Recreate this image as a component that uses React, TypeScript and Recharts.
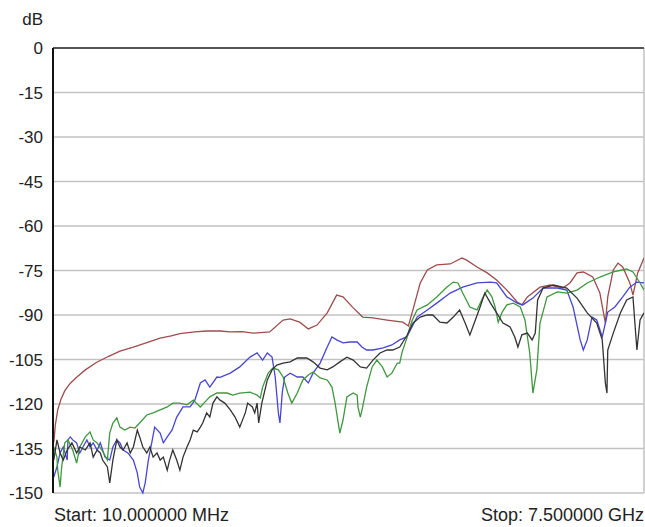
import React from "react";
import { LineChart, Line, XAxis, YAxis, CartesianGrid, ReferenceLine } from "recharts";

// frequency in GHz, level in dB
const brownTrace: [number, number][] = [
  [0.01, -133], [0.03, -127], [0.06, -122], [0.1, -118.5], [0.15, -115.5], [0.22, -113],
  [0.3, -111], [0.41, -108.5], [0.55, -106], [0.7, -104], [0.85, -102.2], [1.02, -100.8],
  [1.2, -99.2], [1.36, -97.8], [1.5, -97], [1.61, -96.3], [1.8, -95.7], [1.95, -95.4], [2.12, -95.4],
  [2.25, -95.7], [2.4, -95.6], [2.54, -96.1], [2.75, -95.7], [2.92, -91.7], [3.01, -91.3], [3.13, -92.4],
  [3.24, -94.7], [3.35, -93.4], [3.48, -89.3], [3.6, -83.3], [3.68, -83.9], [3.81, -87.6],
  [3.93, -90.7], [4.06, -91.0], [4.24, -91.7], [4.44, -92.4], [4.51, -93.7], [4.57, -88.0],
  [4.66, -79.2], [4.75, -74.8], [4.87, -73.1], [5.04, -72.8], [5.19, -70.8], [5.25, -71.5],
  [5.38, -73.8], [5.51, -75.8], [5.63, -78.2], [5.76, -81.6], [5.89, -85.6], [5.95, -86.6],
  [6.02, -83.9], [6.18, -80.6], [6.31, -79.9], [6.47, -80.9], [6.56, -79.2], [6.65, -75.8],
  [6.73, -75.5], [6.85, -77.2], [6.94, -82.6], [7.01, -92.7], [7.04, -83.9], [7.11, -74.8],
  [7.17, -72.5], [7.23, -73.8], [7.32, -79.2], [7.36, -83.3], [7.42, -75.8], [7.5, -70.8],
];

const blueTrace: [number, number][] = [
  [0.01, -144.6], [0.05, -141.2], [0.09, -136.5], [0.13, -134.5], [0.18, -138.9], [0.19, -132.1],
  [0.22, -131.1], [0.25, -132.1], [0.3, -133.1], [0.34, -136.5], [0.38, -134.5], [0.43, -132.1],
  [0.47, -134.5], [0.51, -133.1], [0.56, -135.5], [0.6, -133.1], [0.66, -137.9], [0.72, -138.9],
  [0.76, -134.5], [0.81, -132.1], [0.85, -133.1], [0.89, -135.5], [0.95, -136.5], [1.02, -138.9],
  [1.07, -143.3], [1.1, -148.0], [1.14, -150.0], [1.17, -146.6], [1.21, -138.9], [1.26, -132.1],
  [1.29, -127.8], [1.36, -129.8], [1.4, -133.1], [1.45, -131.1], [1.51, -128.8], [1.57, -124.4],
  [1.65, -121.0], [1.74, -121.0], [1.8, -118.7], [1.87, -112.9], [1.93, -111.9], [1.99, -114.3],
  [2.08, -110.9], [2.12, -111.0], [2.25, -109.6], [2.37, -107.5], [2.5, -104.2], [2.59, -102.8],
  [2.66, -105.2], [2.72, -102.8], [2.78, -104.2], [2.82, -110.9], [2.86, -123.0], [2.88, -126.4],
  [2.91, -116.0], [2.94, -110.9], [3.01, -109.6], [3.1, -110.9], [3.17, -110.9], [3.24, -112.9],
  [3.3, -109.6], [3.39, -106.2], [3.48, -100.8], [3.54, -97.4], [3.6, -98.4], [3.68, -99.4],
  [3.77, -99.1], [3.86, -99.1], [3.92, -100.8], [3.98, -101.8], [4.06, -101.8], [4.19, -101.1],
  [4.3, -100.1], [4.4, -98.4], [4.49, -97.4], [4.62, -90.7], [4.75, -88.3], [4.87, -86.0],
  [5.04, -82.6], [5.2, -80.6], [5.38, -79.2], [5.55, -78.9], [5.63, -79.2], [5.76, -83.9],
  [5.89, -86.0], [5.96, -86.6], [6.09, -84.3], [6.22, -80.9], [6.4, -80.9], [6.52, -81.6],
  [6.6, -87.3], [6.69, -98.4], [6.73, -101.8], [6.78, -98.4], [6.84, -90.7], [6.9, -91.7],
  [6.97, -97.4], [7.01, -92.7], [7.04, -89.0], [7.13, -87.3], [7.23, -83.9], [7.32, -80.6],
  [7.41, -78.9], [7.5, -79.2],
];

const greenTrace: [number, number][] = [
  [0.01, -134.5], [0.05, -137.9], [0.06, -142.3], [0.09, -148.0], [0.11, -141.2], [0.15, -133.1],
  [0.19, -132.1], [0.25, -135.5], [0.3, -139.9], [0.34, -134.5], [0.41, -131.1], [0.47, -129.4],
  [0.51, -132.1], [0.56, -133.1], [0.62, -135.5], [0.69, -138.9], [0.72, -129.8], [0.76, -126.4],
  [0.81, -124.7], [0.85, -127.8], [0.91, -128.8], [0.98, -127.8], [1.04, -128.1], [1.1, -126.4],
  [1.19, -123.7], [1.27, -123.0], [1.36, -122.0], [1.45, -121.0], [1.52, -119.7], [1.61, -119.7],
  [1.7, -120.3], [1.78, -118.7], [1.87, -121.0], [1.93, -119.3], [1.99, -117.6], [2.08, -116.3],
  [2.21, -116.3], [2.28, -117.0], [2.37, -116.3], [2.5, -116.0], [2.59, -117.0], [2.63, -118.0],
  [2.66, -114.3], [2.73, -109.6], [2.79, -107.9], [2.86, -108.5], [2.92, -110.9], [2.98, -116.3],
  [3.03, -119.7], [3.1, -116.3], [3.17, -111.9], [3.24, -110.2], [3.3, -109.2], [3.39, -111.2],
  [3.48, -111.9], [3.54, -114.3], [3.58, -119.7], [3.64, -129.8], [3.68, -125.4], [3.73, -117.6],
  [3.81, -116.3], [3.86, -117.0], [3.87, -121.0], [3.9, -124.4], [3.93, -121.0], [3.98, -114.3],
  [4.05, -107.5], [4.11, -105.2], [4.18, -107.5], [4.24, -110.9], [4.3, -109.6], [4.37, -106.2],
  [4.4, -106.2], [4.43, -102.5], [4.47, -99.4], [4.49, -97.8], [4.53, -94.0], [4.56, -91.7],
  [4.62, -88.3], [4.75, -86.6], [4.87, -83.9], [5.0, -80.6], [5.08, -78.9], [5.14, -79.2],
  [5.2, -82.6], [5.29, -87.3], [5.38, -88.3], [5.46, -83.9], [5.51, -81.6], [5.57, -83.9],
  [5.61, -87.3], [5.65, -92.4], [5.7, -89.0], [5.76, -86.6], [5.84, -86.0], [5.93, -87.3],
  [5.99, -91.7], [6.05, -102.8], [6.09, -116.3], [6.14, -108.5], [6.18, -92.7], [6.27, -83.9],
  [6.4, -82.2], [6.52, -82.6], [6.65, -81.6], [6.78, -79.2], [6.94, -77.2], [7.11, -75.5],
  [7.28, -74.5], [7.36, -75.5], [7.45, -79.2], [7.5, -81.6],
];

const blackTrace: [number, number][] = [
  [0.01, -138.9], [0.05, -132.1], [0.09, -136.5], [0.13, -138.9], [0.18, -135.5], [0.24, -133.1],
  [0.3, -136.5], [0.34, -134.5], [0.41, -135.5], [0.47, -133.1], [0.51, -137.9], [0.56, -135.5],
  [0.6, -136.5], [0.63, -138.9], [0.69, -141.2], [0.72, -146.6], [0.76, -138.9], [0.81, -132.1],
  [0.85, -134.5], [0.89, -135.5], [0.94, -133.1], [0.98, -136.5], [1.02, -134.5], [1.07, -128.8],
  [1.1, -131.1], [1.14, -134.5], [1.19, -136.5], [1.23, -134.5], [1.27, -137.9], [1.32, -136.5],
  [1.36, -138.9], [1.4, -137.9], [1.45, -142.3], [1.48, -138.9], [1.52, -135.5], [1.57, -138.9],
  [1.61, -142.3], [1.65, -137.9], [1.7, -134.5], [1.74, -132.1], [1.78, -128.8], [1.83, -129.4],
  [1.87, -127.8], [1.9, -126.4], [1.95, -123.0], [1.99, -124.4], [2.03, -119.7], [2.08, -117.6],
  [2.12, -118.7], [2.18, -119.7], [2.25, -122.0], [2.31, -124.4], [2.37, -127.8], [2.44, -123.0],
  [2.47, -119.7], [2.53, -121.0], [2.56, -123.0], [2.59, -119.7], [2.61, -126.4], [2.65, -119.7],
  [2.72, -111.9], [2.78, -108.5], [2.84, -106.9], [2.92, -106.2], [3.01, -105.8], [3.1, -104.5],
  [3.22, -104.5], [3.3, -105.8], [3.39, -107.9], [3.48, -108.5], [3.55, -107.5], [3.64, -105.8],
  [3.73, -104.2], [3.81, -105.2], [3.9, -107.5], [3.98, -107.9], [4.06, -105.2], [4.15, -102.8],
  [4.24, -101.8], [4.31, -101.8], [4.4, -100.8], [4.49, -97.0], [4.57, -92.7], [4.66, -90.7],
  [4.75, -90.0], [4.82, -90.0], [4.91, -92.4], [5.0, -92.7], [5.08, -90.7], [5.16, -88.3],
  [5.23, -92.7], [5.29, -96.7], [5.36, -91.7], [5.42, -87.3], [5.48, -82.6], [5.55, -85.9],
  [5.63, -89.3], [5.71, -92.7], [5.8, -94.0], [5.86, -97.4], [5.9, -100.8], [5.95, -96.7],
  [6.02, -96.1], [6.08, -98.4], [6.12, -96.1], [6.15, -84.9], [6.22, -80.9], [6.35, -79.9],
  [6.52, -80.9], [6.65, -84.3], [6.78, -89.3], [6.9, -92.7], [6.97, -98.4], [7.01, -113.0],
  [7.03, -116.3], [7.04, -101.8], [7.11, -96.1], [7.2, -89.3], [7.28, -84.9], [7.36, -83.9],
  [7.41, -101.8], [7.45, -91.7], [7.5, -89.3],
];

const yTicks = [0, -15, -30, -45, -60, -75, -90, -105, -120, -135, -150];
const xTicks = [1, 2, 3, 4, 5, 6, 7, 7.5];
const startLabel = "Start: 10.000000 MHz";
const stopLabel = "Stop: 7.500000 GHz";
const unitLabel = "dB";

const toRows = (t: [number, number][]) => t.map(([f, db]) => ({ f, db }));

const FONT = "'Liberation Sans', Arial, sans-serif";

export default function App() {
  return (
    <div style={{ position: "absolute", left: 0, top: 0, width: 645, height: 527, overflow: "hidden", background: "#fff", fontFamily: FONT }}>
      <LineChart width={645} height={527} margin={{ top: 48, right: 1, bottom: 34, left: 0 }}>
        <CartesianGrid stroke="#c2c2c2" strokeWidth={1.5} />
        <XAxis
          dataKey="f"
          type="number"
          domain={[0, 7.5]}
          ticks={xTicks}
          tick={false}
          tickLine={false}
          height={0}
          axisLine={{ stroke: "#6a6a6a", strokeWidth: 2.5 }}
          allowDataOverflow
        />
        <YAxis
          type="number"
          domain={[-150, 0]}
          ticks={yTicks}
          width={53}
          tickLine={false}
          tickSize={6}
          tickMargin={4}
          axisLine={{ stroke: "#111", strokeWidth: 2 }}
          tick={{ fill: "#222", fontSize: 17, fontFamily: FONT }}
          interval={0}
        />
        <ReferenceLine y={0} stroke="#555" strokeWidth={2} />
        <Line data={toRows(brownTrace)} dataKey="db" type="linear" stroke="#9e4c4c" strokeWidth={1.3} dot={false} isAnimationActive={false} />
        <Line data={toRows(blueTrace)} dataKey="db" type="linear" stroke="#4646d2" strokeWidth={1.3} dot={false} isAnimationActive={false} />
        <Line data={toRows(greenTrace)} dataKey="db" type="linear" stroke="#3f973f" strokeWidth={1.3} dot={false} isAnimationActive={false} />
        <Line data={toRows(blackTrace)} dataKey="db" type="linear" stroke="#333" strokeWidth={1.3} dot={false} isAnimationActive={false} />
      </LineChart>
      <div style={{ position: "absolute", left: 0, top: 10, width: 43, textAlign: "right", fontSize: 17, lineHeight: "20px", color: "#222" }}>{unitLabel}</div>
      <div style={{ position: "absolute", left: 54, top: 504, fontSize: 18, lineHeight: "22px", color: "#222", whiteSpace: "nowrap" }}>{startLabel}</div>
      <div style={{ position: "absolute", right: 1, top: 504, fontSize: 18, lineHeight: "22px", color: "#222", whiteSpace: "nowrap" }}>{stopLabel}</div>
    </div>
  );
}
